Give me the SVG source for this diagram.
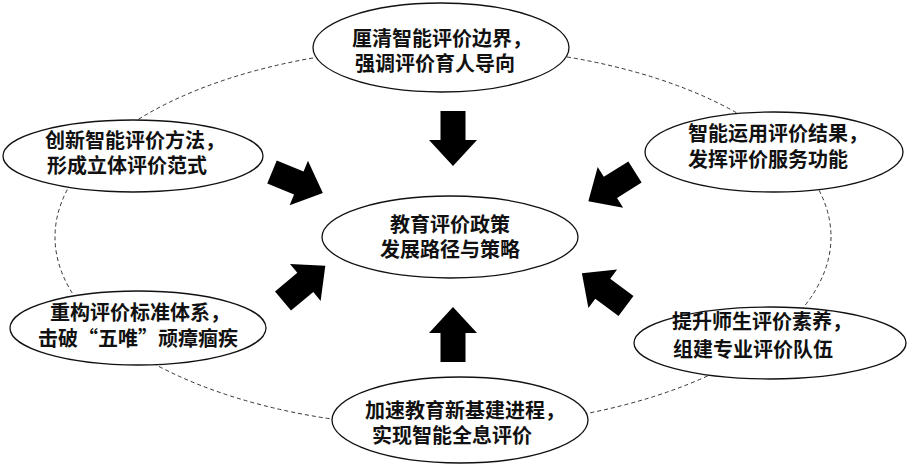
<svg xmlns="http://www.w3.org/2000/svg" width="908" height="469" viewBox="0 0 908 469">
<style>
.ring{fill:none;stroke:#333;stroke-width:1;stroke-dasharray:4 3}
.node{fill:#fff;stroke:#111;stroke-width:1.3}
.t{font-family:"Noto Sans CJK SC","Noto Sans",sans-serif;font-size:20px;font-weight:700;fill:#111}
.arr{fill:#000}
</style>
<defs>
<path id="blk" d="M0,-12.5 L29,-12.5 L29,-24 L55,0 L29,24 L29,12.5 L0,12.5 Z"/>
</defs>
<rect width="908" height="469" fill="#fff"/>
<g id="ring"><ellipse class="ring" cx="443" cy="237" rx="388" ry="190"/></g>
<g id="connectors">
<use href="#blk" class="arr" transform="translate(453,111) rotate(90)"/>
<use href="#blk" class="arr" transform="translate(453,362) rotate(-90)"/>
<use href="#blk" class="arr" transform="translate(272,172) rotate(22.4)"/>
<use href="#blk" class="arr" transform="translate(635,172) rotate(148)"/>
<use href="#blk" class="arr" transform="translate(283,301) rotate(-39.7)"/>
<use href="#blk" class="arr" transform="translate(626,306) rotate(-143.3)"/>
</g>
<g id="n-top">
<ellipse class="node" cx="441" cy="47.5" rx="128" ry="44.5"/>
<text class="t" x="352" y="46">厘清智能评价边界，</text>
<text class="t" x="355" y="71">强调评价育人导向</text>
</g>
<g id="n-topleft">
<ellipse class="node" cx="133" cy="156" rx="130" ry="36"/>
<text class="t" x="45" y="148">创新智能评价方法，</text>
<text class="t" x="47" y="173">形成立体评价范式</text>
</g>
<g id="n-topright">
<ellipse class="node" cx="774" cy="152" rx="129" ry="40"/>
<text class="t" x="688" y="141">智能运用评价结果，</text>
<text class="t" x="688" y="167">发挥评价服务功能</text>
</g>
<g id="n-center">
<ellipse class="node" cx="450" cy="237" rx="128" ry="41"/>
<text class="t" x="390" y="232">教育评价政策</text>
<text class="t" x="380" y="257">发展路径与策略</text>
</g>
<g id="n-bottomleft">
<ellipse class="node" cx="138" cy="328" rx="128" ry="37"/>
<text class="t" x="50" y="320">重构评价标准体系，</text>
<text class="t" x="38" y="346">击破“五唯”顽瘴痼疾</text>
</g>
<g id="n-bottomright">
<ellipse class="node" cx="770" cy="343" rx="136" ry="36"/>
<text class="t" x="672" y="329">提升师生评价素养，</text>
<text class="t" x="673" y="357">组建专业评价队伍</text>
</g>
<g id="n-bottom">
<ellipse class="node" cx="460" cy="420" rx="128" ry="43"/>
<text class="t" x="365" y="418">加速教育新基建进程，</text>
<text class="t" x="372" y="443">实现智能全息评价</text>
</g>
</svg>
